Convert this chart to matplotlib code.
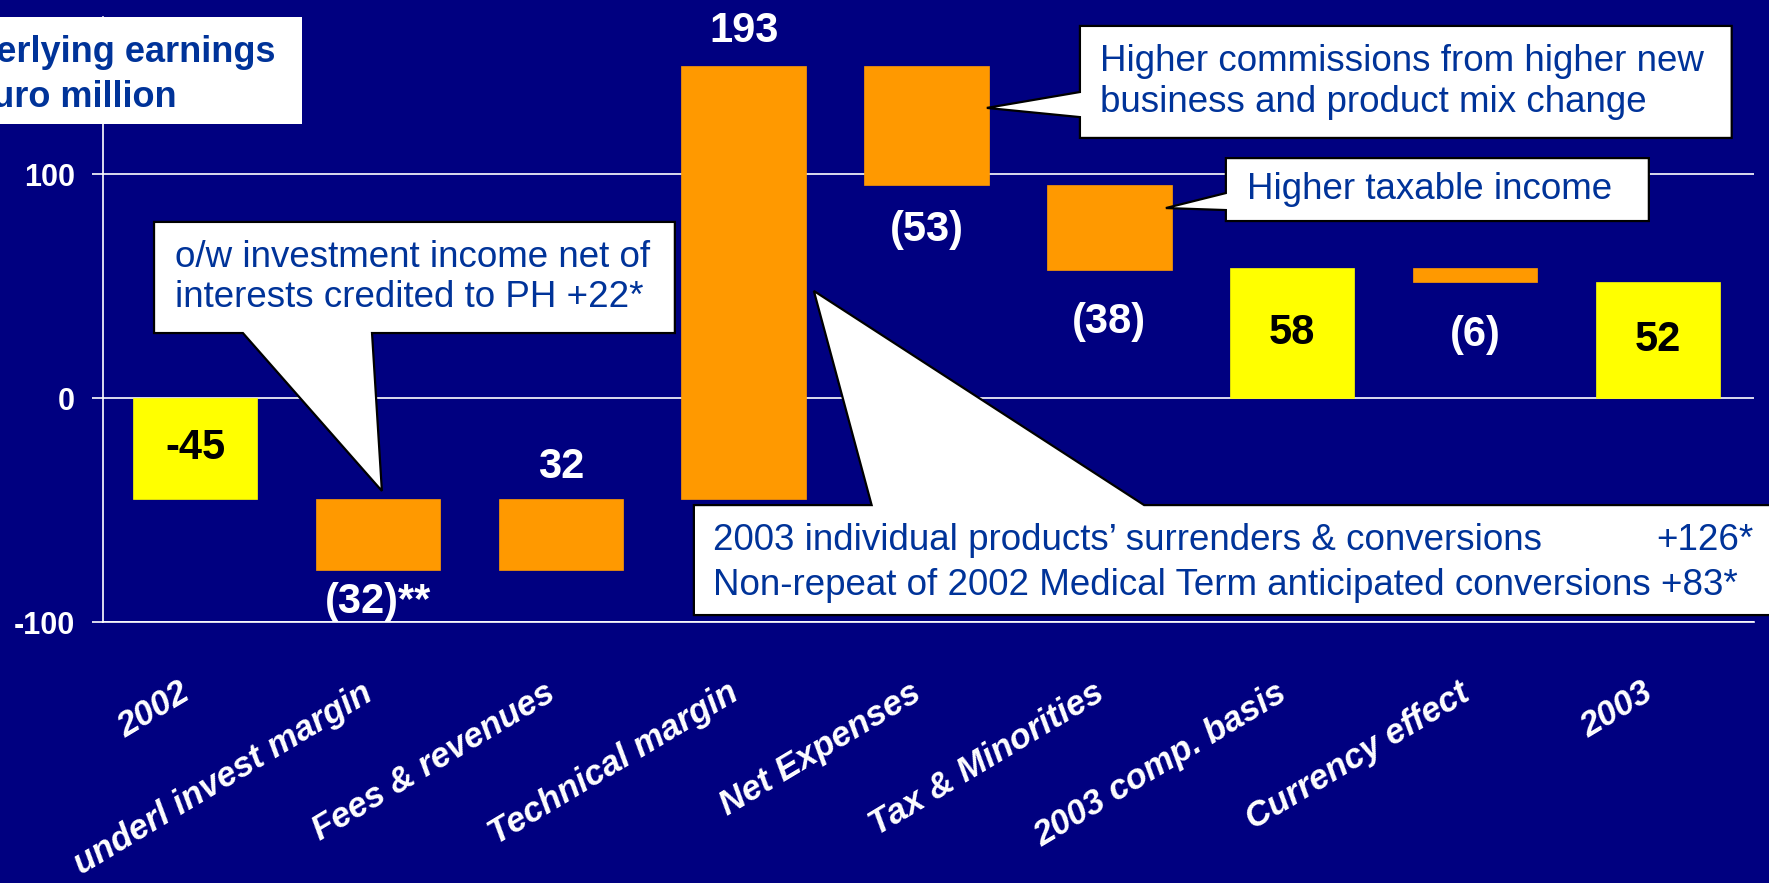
import matplotlib
matplotlib.use("Agg")
import matplotlib.pyplot as plt
from matplotlib.patches import Polygon, Rectangle
from matplotlib.transforms import ScaledTranslation

plt.rcParams['font.family'] = ['Liberation Sans', 'DejaVu Sans']

# data
categories = ["2002", "underl invest margin", "Fees & revenues", "Technical margin",
              "Net Expenses", "Tax & Minorities", "2003 comp. basis", "Currency effect", "2003"]
changes = [-45, -32, 32, 193, -53, -38, 58, -6, 52]
is_total = [True, False, False, False, False, False, True, False, True]
value_labels = ["-45", "(32)**", "32", "193", "(53)", "(38)", "58", "(6)", "52"]
y_ticks = [-100, 0, 100]

# distance of each value label from the bar end (layout only)
label_gap = [0, 14, 14, 16, 20, 23, 0, 24, 0]

NAVY = "#000080"
ORANGE = "#FF9900"
YELLOW = "#FFFF00"
TEXT_BLUE = "#003399"


def callout(ax, left, right, bottom, top, side, base, tip):
    # box with a pointer merged into one of its edges
    if side == "bottom":
        pts = [(left, top), (right, top), (right, bottom), (base[1], bottom), tip,
               (base[0], bottom), (left, bottom)]
    elif side == "left":
        pts = [(left, top), (right, top), (right, bottom), (left, bottom),
               (left, base[1]), tip, (left, base[0])]
    else:
        pts = [(left, top), (base[0], top), tip, (base[1], top), (right, top),
               (right, bottom), (left, bottom)]
    poly = Polygon(pts, closed=True, facecolor="white", edgecolor="black",
                   linewidth=1.6, zorder=5, clip_on=False, transform=ax.transData)
    ax.add_patch(poly)


def main():
    fig = plt.figure(figsize=(17.69, 8.83), dpi=100, facecolor=NAVY)
    ax = fig.add_axes([0.05823, 0.29558, 0.93329, 0.68494], facecolor=NAVY)

    # waterfall levels
    bottoms = []
    heights = []
    running = 0
    for ch, tot in zip(changes, is_total):
        if tot:
            bottoms.append(0)
            heights.append(ch)
            running = ch
        else:
            bottoms.append(running)
            heights.append(ch)
            running += ch
    colors = [YELLOW if t else ORANGE for t in is_total]
    xs = list(range(len(categories)))
    width = 0.68
    ax.bar(xs, heights, bottom=bottoms, width=width, color=colors,
           edgecolor=colors, linewidth=0.5, zorder=3)

    # value labels
    for x, b, h, tot, lab, gap in zip(xs, bottoms, heights, is_total, value_labels, label_gap):
        if tot:
            ax.text(x, b + h / 2, lab, ha="center", va="center", fontsize=30,
                    fontweight="bold", color="black", zorder=4)
        elif h > 0:
            ax.text(x, b + h + gap, lab, ha="center", va="center", fontsize=30,
                    fontweight="bold", color="white", zorder=4)
        else:
            ax.text(x, b + h - gap, lab, ha="center", va="center", fontsize=30,
                    fontweight="bold", color="white", zorder=4)

    ax.set_xlim(-0.503, 8.525)
    ax.set_ylim(-100, 170)
    ax.set_yticks(y_ticks)
    ax.set_yticklabels([str(v) for v in y_ticks], fontsize=22, fontweight="bold", color="white")
    ax.tick_params(axis="y", length=8, width=1.2, color="white", pad=12, direction="out")
    ax.yaxis.grid(True, color="white", linewidth=1.2)
    ax.set_axisbelow(True)
    for s in ["top", "right"]:
        ax.spines[s].set_visible(False)
    ax.spines["left"].set_color("white")
    ax.spines["left"].set_linewidth(1.2)
    ax.spines["bottom"].set_color("white")
    ax.spines["bottom"].set_linewidth(1.2)

    ax.set_xticks(xs)
    ax.set_xticklabels(categories, rotation=31, ha="right", va="top", rotation_mode="anchor",
                       fontsize=25, fontweight="bold", fontstyle="italic", color="white")
    ax.tick_params(axis="x", length=0, pad=39)
    shift = ScaledTranslation(-12 / 72, 0, fig.dpi_scale_trans)
    for lab in ax.get_xticklabels():
        lab.set_transform(lab.get_transform() + shift)

    # callouts
    callout(ax, -0.224, 2.624, 29.0, 78.6, "bottom", (0.262, 0.968), (1.022, -41.5))
    ax.text(-0.109, 53.8, "o/w investment income net of\ninterests credited to PH +22*",
            ha="left", va="center", fontsize=26.5, color=TEXT_BLUE, zorder=6,
            linespacing=1.2)

    callout(ax, 4.839, 8.403, 116.1, 166.1, "left", (136.6, 125.4), (4.33, 129.5))
    ax.text(4.948, 141.1, "Higher commissions from higher new\nbusiness and product mix change",
            ha="left", va="center", fontsize=26.5, color=TEXT_BLUE, zorder=6,
            linespacing=1.2, clip_on=False)

    callout(ax, 5.637, 7.950, 79.0, 107.1, "left", (91.5, 83.9), (5.309, 84.8))
    ax.text(5.752, 93.0, "Higher taxable income", ha="left", va="center",
            fontsize=26.5, color=TEXT_BLUE, zorder=6)

    callout(ax, 2.728, 8.9, -96.9, -47.8, "top", (3.70, 5.19), (3.384, 47.8))
    ax.text(2.832, -63.5, "2003 individual products\u2019 surrenders & conversions",
            ha="left", va="center", fontsize=26.5, color=TEXT_BLUE, zorder=6)
    ax.text(8.524, -63.5, "+126*", ha="right", va="center", fontsize=26.5,
            color=TEXT_BLUE, zorder=6)
    ax.text(2.832, -83.5, "Non-repeat of 2002 Medical Term anticipated conversions +83*",
            ha="left", va="center", fontsize=26.5, color=TEXT_BLUE, zorder=6, clip_on=False)

    # title box in the top-left corner, cut by the figure edge as in the slide
    fig.add_artist(Rectangle((0, 1 - 124 / 883), 302 / 1769, 107 / 883,
                             transform=fig.transFigure, facecolor="white",
                             edgecolor="none", zorder=10))
    fig.text(276 / 1769, 1 - 62 / 883, "Underlying earnings", ha="right", va="baseline",
             fontsize=26, fontweight="bold", color=TEXT_BLUE, zorder=11)
    fig.text(177 / 1769, 1 - 107 / 883, "in Euro million", ha="right", va="baseline",
             fontsize=26, fontweight="bold", color=TEXT_BLUE, zorder=11)

    fig.savefig("out.png", dpi=100, facecolor=NAVY)


if __name__ == '__main__':
    main()
